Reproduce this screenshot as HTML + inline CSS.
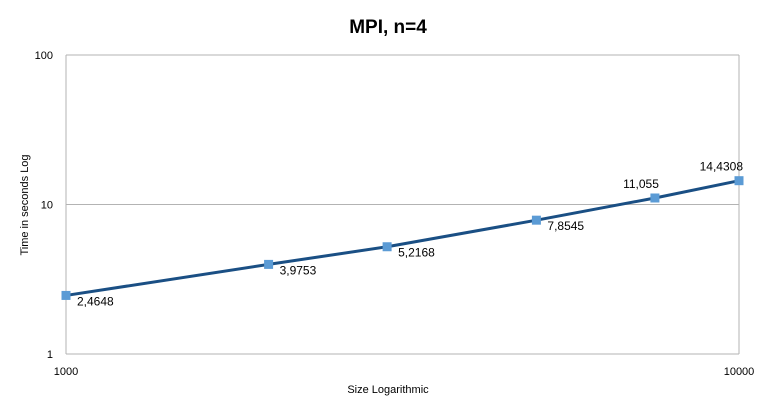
<!DOCTYPE html>
<html><head><meta charset="utf-8"><style>
body{margin:0;background:#fff;}
svg{display:block;font-family:"Liberation Sans",sans-serif;}
</style></head><body>
<svg id="c" width="776" height="417" viewBox="0 0 776 417">
<text x="388" y="33" text-anchor="middle" font-size="19" font-weight="bold" fill="#000">MPI, n=4</text>
<g id="grid"></g><g id="axes"></g><g id="series"></g>
<text x="388" y="393" text-anchor="middle" font-size="11" fill="#000">Size Logarithmic</text>
<text transform="translate(28,205) rotate(-90)" text-anchor="middle" font-size="11" fill="#000">Time in seconds Log</text>
</svg>
<script>
const sizes=[1000,2000,3000,5000,7500,10000];
const times=[2.4648,3.9753,5.2168,7.8545,11.055,14.4308];
const labels=["2,4648","3,9753","5,2168","7,8545","11,055","14,4308"];
const yTicks=[1,10,100];
const xTicks=[1000,10000];
const X0=66,X1=739,Y0=354,Y1=55;
const xs=v=>X0+(Math.log10(v)-3)*(X1-X0);
const ys=v=>Y0-(Math.log10(v))/2*(Y0-Y1);
const NS="http://www.w3.org/2000/svg";
function mk(t,a,p){const e=document.createElementNS(NS,t);for(const k in a)e.setAttribute(k,a[k]);p.appendChild(e);return e;}
const grid=document.getElementById('grid'),axes=document.getElementById('axes'),ser=document.getElementById('series');
yTicks.forEach(t=>{
 const l=mk('line',{x1:X0,x2:X1,y1:ys(t),y2:ys(t),stroke:'#b3b3b3','stroke-width':1},grid);
 
 
 const tx=mk('text',{x:X0-13,y:ys(t)+4,'text-anchor':'end','font-size':11},axes);tx.textContent=t;
 
 
});
xTicks.forEach(t=>{
 const l=mk('line',{x1:xs(t),x2:xs(t),y1:Y1,y2:Y0,stroke:'#b3b3b3','stroke-width':1},grid);
 
 
 const tx=mk('text',{x:xs(t),y:Y0+21,'text-anchor':'middle','font-size':11},axes);tx.textContent=t;
 
 
});
const pl=mk('polyline',{points:sizes.map((s,i)=>xs(s)+','+ys(times[i])).join(' '),fill:'none',stroke:'#1a4f84','stroke-width':3},ser);


sizes.forEach((s,i)=>{
 const x=xs(s),y=ys(times[i]);
 const r=mk('rect',{x:x-4.5,y:y-4.5,width:9,height:9,fill:'#5b9bd5'},ser);
 
 
 const above=i>=4;
 const tx=mk('text',{x:above?x+4:x+11,y:above?y-10:y+10,'text-anchor':above?'end':'start','font-size':12},ser);
 tx.textContent=labels[i];
 
 
});
</script>
</body></html>
